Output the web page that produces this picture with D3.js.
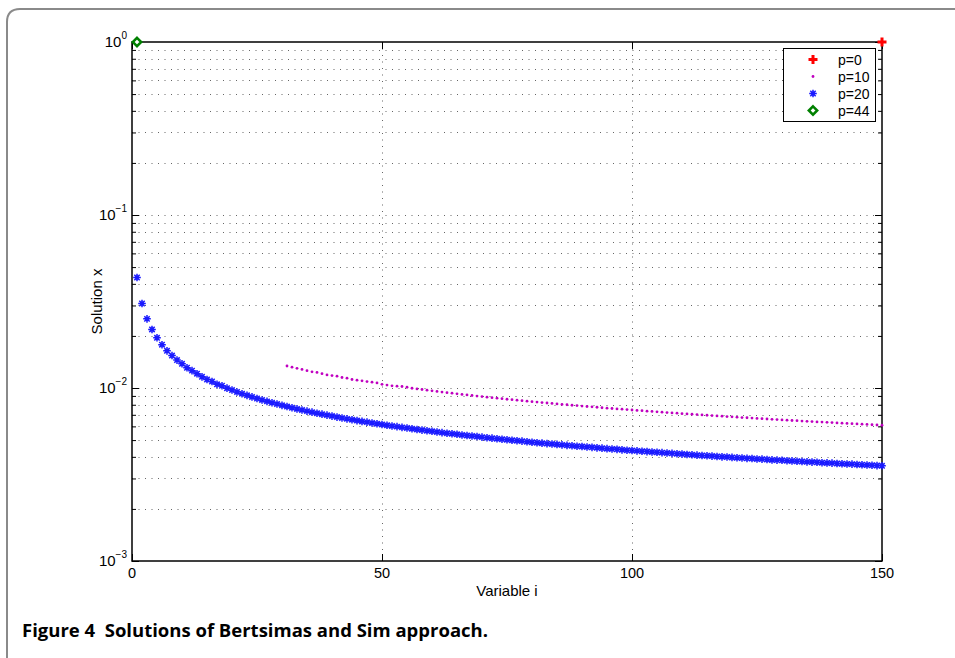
<!DOCTYPE html>
<html>
<head>
<meta charset="utf-8">
<script src="https://cdn.jsdelivr.net/npm/d3@7"></script>
<style>
  body { margin: 0; background: #fff; overflow: hidden; }
  svg { display: block; }
</style>
</head>
<body>
<div class="chart"></div>
<script>
const width = 955;
const height = 658;
const margin = { top: 42, right: 73, bottom: 97, left: 132 };
const innerWidth = width - margin.left - margin.right;
const innerHeight = height - margin.top - margin.bottom;

// series
const p0Index = [150];
const p0Values = [1];
const p44Index = [1];
const p44Values = [1];

// p=20, i = 1..150
const p20Start = 1;
const p20Values = [
  0.0435, 0.0308, 0.0251, 0.0218, 0.0195, 0.0178, 0.0164, 0.0154, 0.0145, 0.0138,
  0.0131, 0.0126, 0.0121, 0.0116, 0.0112, 0.0109, 0.0105, 0.0103, 0.00998, 0.00973,
  0.00949, 0.00927, 0.00907, 0.00888, 0.0087, 0.00853, 0.00837, 0.00822, 0.00808, 0.00794,
  0.00781, 0.00769, 0.00757, 0.00746, 0.00735, 0.00725, 0.00715, 0.00706, 0.00697, 0.00688,
  0.00679, 0.00671, 0.00663, 0.00656, 0.00648, 0.00641, 0.00635, 0.00628, 0.00621, 0.00615,
  0.00609, 0.00603, 0.00598, 0.00592, 0.00587, 0.00581, 0.00576, 0.00571, 0.00566, 0.00562,
  0.00557, 0.00552, 0.00548, 0.00544, 0.0054, 0.00535, 0.00531, 0.00528, 0.00524, 0.0052,
  0.00516, 0.00513, 0.00509, 0.00506, 0.00502, 0.00499, 0.00496, 0.00493, 0.00489, 0.00486,
  0.00483, 0.0048, 0.00477, 0.00475, 0.00472, 0.00469, 0.00466, 0.00464, 0.00461, 0.00459,
  0.00456, 0.00454, 0.00451, 0.00449, 0.00446, 0.00444, 0.00442, 0.00439, 0.00437, 0.00435,
  0.00433, 0.00431, 0.00429, 0.00427, 0.00425, 0.00423, 0.00421, 0.00419, 0.00417, 0.00415,
  0.00413, 0.00411, 0.00409, 0.00407, 0.00406, 0.00404, 0.00402, 0.0040, 0.00399, 0.00397,
  0.00395, 0.00394, 0.00392, 0.00391, 0.00389, 0.00388, 0.00386, 0.00384, 0.00383, 0.00382,
  0.0038, 0.00379, 0.00377, 0.00376, 0.00374, 0.00373, 0.00372, 0.0037, 0.00369, 0.00368,
  0.00366, 0.00365, 0.00364, 0.00363, 0.00361, 0.0036, 0.00359, 0.00358, 0.00356, 0.00355
];

// p=10, i = 31..150
const p10Start = 31;
const p10Values = [
  0.0134, 0.0132, 0.013, 0.0128, 0.0126, 0.0124, 0.0123, 0.0121, 0.0119, 0.0118,
  0.0117, 0.0115, 0.0114, 0.0112, 0.0111, 0.011, 0.0109, 0.0108, 0.0107, 0.0105,
  0.0104, 0.0103, 0.01025, 0.0102, 0.0101, 0.00997, 0.00988, 0.0098, 0.00971, 0.00963,
  0.00955, 0.00947, 0.0094, 0.00933, 0.00925, 0.00918, 0.00912, 0.00905, 0.00898, 0.00892,
  0.00885, 0.00879, 0.00873, 0.00867, 0.00861, 0.00856, 0.0085, 0.00845, 0.00839, 0.00834,
  0.00829, 0.00824, 0.00819, 0.00814, 0.00809, 0.00804, 0.008, 0.00795, 0.00791, 0.00786,
  0.00782, 0.00778, 0.00774, 0.00769, 0.00765, 0.00761, 0.00757, 0.00754, 0.0075, 0.00746,
  0.00742, 0.00739, 0.00735, 0.00732, 0.00728, 0.00725, 0.00721, 0.00718, 0.00715, 0.00711,
  0.00708, 0.00705, 0.00702, 0.00699, 0.00696, 0.00693, 0.0069, 0.00687, 0.00684, 0.00681,
  0.00678, 0.00675, 0.00673, 0.0067, 0.00667, 0.00665, 0.00662, 0.00659, 0.00657, 0.00654,
  0.00652, 0.00649, 0.00647, 0.00644, 0.00642, 0.0064, 0.00637, 0.00635, 0.00633, 0.00631,
  0.00628, 0.00626, 0.00624, 0.00622, 0.0062, 0.00618, 0.00616, 0.00613, 0.00611, 0.00609
];

const xTicks = [0, 50, 100, 150];
const yTicks = [1e-3, 1e-2, 1e-1, 1];
const yExponents = ["\u22123", "\u22122", "\u22121", "0"];
const legendLabels = ["p=0", "p=10", "p=20", "p=44"];
const caption = "Figure 4  Solutions of Bertsimas and Sim approach.";

const labelFont = "'Liberation Sans', Arial, Helvetica, sans-serif";

const xScale = d3.scaleLinear()
    .domain([0, 150])
    .range([margin.left, margin.left + innerWidth]);

const yScale = d3.scaleLog()
    .domain([1e-3, 1])
    .range([margin.top + innerHeight, margin.top]);

// minor decades: 2..9 x 10^k
const yMinor = [];
[1e-3, 1e-2, 1e-1].forEach(d => { for (let m = 2; m <= 9; m++) yMinor.push(d * m); });

const svg = d3.select("div.chart")
    .append("svg")
    .attr("width", width)
    .attr("height", height)
    .style("font-family", labelFont);

// card border (rounded top-left corner)
svg.append("path")
    .attr("d", "M7,660 V22 Q7,9 20,9 H960")
    .attr("fill", "none")
    .attr("stroke", "#8a8a8a")
    .attr("stroke-width", 2);

// grid
const grid = svg.append("g")
    .attr("stroke", "#666")
    .attr("stroke-width", 1)
    .attr("stroke-dasharray", "1,5.5");

grid.selectAll("line.hy")
    .data(yMinor.concat([1e-2, 1e-1]))
    .join("line")
    .attr("class", "hy")
    .attr("x1", margin.left)
    .attr("x2", margin.left + innerWidth)
    .attr("y1", d => Math.round(yScale(d)) + 0.5)
    .attr("y2", d => Math.round(yScale(d)) + 0.5);

grid.selectAll("line.vx")
    .data([50, 100])
    .join("line")
    .attr("class", "vx")
    .attr("x1", d => Math.round(xScale(d)) + 0.5)
    .attr("x2", d => Math.round(xScale(d)) + 0.5)
    .attr("y1", margin.top)
    .attr("y2", margin.top + innerHeight);

// axes: ticks pointing inward on all four sides
function styleAxis(g) {
    g.select(".domain").remove();
    g.selectAll(".tick line").attr("stroke", "#000").attr("stroke-width", 1);
    g.selectAll(".tick text").remove();
}

svg.append("g")
    .attr("transform", `translate(${margin.left},0)`)
    .call(d3.axisLeft(yScale).tickValues(yMinor).tickSize(-4).tickFormat(""))
    .call(styleAxis);
svg.append("g")
    .attr("transform", `translate(${margin.left},0)`)
    .call(d3.axisLeft(yScale).tickValues(yTicks).tickSize(-7).tickFormat(""))
    .call(styleAxis);
svg.append("g")
    .attr("transform", `translate(${margin.left + innerWidth},0)`)
    .call(d3.axisRight(yScale).tickValues(yMinor).tickSize(-4).tickFormat(""))
    .call(styleAxis);
svg.append("g")
    .attr("transform", `translate(${margin.left + innerWidth},0)`)
    .call(d3.axisRight(yScale).tickValues(yTicks).tickSize(-7).tickFormat(""))
    .call(styleAxis);
svg.append("g")
    .attr("transform", `translate(0,${margin.top + innerHeight})`)
    .call(d3.axisBottom(xScale).tickValues(xTicks).tickSize(-7).tickFormat(""))
    .call(styleAxis);
svg.append("g")
    .attr("transform", `translate(0,${margin.top})`)
    .call(d3.axisTop(xScale).tickValues(xTicks).tickSize(-7).tickFormat(""))
    .call(styleAxis);

// axes box
svg.append("rect")
    .attr("x", margin.left)
    .attr("y", margin.top)
    .attr("width", innerWidth)
    .attr("height", innerHeight)
    .attr("fill", "none")
    .attr("stroke", "#000")
    .attr("stroke-width", 1.5);

// tick labels
svg.append("g")
    .selectAll("text")
    .data(xTicks)
    .join("text")
    .attr("x", d => xScale(d))
    .attr("y", margin.top + innerHeight + 17)
    .attr("text-anchor", "middle")
    .attr("font-size", 14.5)
    .text(d => d);

const yLab = svg.append("g")
    .selectAll("text")
    .data(yTicks)
    .join("text")
    .attr("x", 127)
    .attr("y", d => yScale(d) + 5)
    .attr("text-anchor", "end")
    .attr("font-size", 15);
yLab.append("tspan").text("10");
yLab.append("tspan")
    .attr("font-size", 10)
    .attr("dy", -8)
    .text((d, i) => yExponents[i]);

// axis titles
svg.append("text")
    .attr("x", xScale(75))
    .attr("y", 596)
    .attr("text-anchor", "middle")
    .attr("font-size", 15)
    .text("Variable i");

svg.append("text")
    .attr("transform", `translate(102,${yScale(Math.sqrt(1e-3))}) rotate(-90)`)
    .attr("text-anchor", "middle")
    .attr("font-size", 15)
    .text("Solution x");

// marker shapes
const starPath = "M-3.8,0H3.8M0,-3.8V3.8M-2.7,-2.7L2.7,2.7M-2.7,2.7L2.7,-2.7";
const plusPath = "M-4.5,0H4.5M0,-4.5V4.5";
const diamondPath = "M0,-4.2L4.2,0L0,4.2L-4.2,0Z";

const p20 = p20Values.map((v, k) => ({ i: p20Start + k, v }));
const p10 = p10Values.map((v, k) => ({ i: p10Start + k, v }));
const p0 = p0Values.map((v, k) => ({ i: p0Index[k], v }));
const p44 = p44Values.map((v, k) => ({ i: p44Index[k], v }));

const marks = svg.append("g");

marks.append("g")
    .selectAll("path")
    .data(p20)
    .join("path")
    .attr("d", starPath)
    .attr("transform", d => `translate(${xScale(d.i)},${yScale(d.v)})`)
    .attr("fill", "none")
    .attr("stroke", "#1a1aff")
    .attr("stroke-width", 1.5);

marks.append("g")
    .selectAll("circle")
    .data(p10)
    .join("circle")
    .attr("cx", d => xScale(d.i))
    .attr("cy", d => yScale(d.v))
    .attr("r", 1.4)
    .attr("fill", "#c000c0");

marks.append("g")
    .selectAll("path")
    .data(p0)
    .join("path")
    .attr("d", plusPath)
    .attr("transform", d => `translate(${xScale(d.i)},${yScale(d.v)})`)
    .attr("stroke", "#ff0000")
    .attr("stroke-width", 3);

marks.append("g")
    .selectAll("path")
    .data(p44)
    .join("path")
    .attr("d", diamondPath)
    .attr("transform", d => `translate(${xScale(d.i)},${yScale(d.v)})`)
    .attr("fill", "#fff")
    .attr("stroke", "#008000")
    .attr("stroke-width", 2.5);

// legend
const legend = svg.append("g").attr("transform", "translate(783,48)");
legend.append("rect")
    .attr("x", 0.5)
    .attr("y", 0.5)
    .attr("width", 92)
    .attr("height", 73)
    .attr("fill", "#fff")
    .attr("stroke", "#000")
    .attr("stroke-width", 1);

const rowY = d3.scalePoint().domain(legendLabels).range([11.5, 62.5]);
const rows = legend.selectAll("g.row")
    .data(legendLabels)
    .join("g")
    .attr("class", "row")
    .attr("transform", d => `translate(30,${rowY(d)})`);

rows.filter((d, i) => i === 0).append("path")
    .attr("d", plusPath).attr("stroke", "#ff0000").attr("stroke-width", 3);
rows.filter((d, i) => i === 1).append("circle")
    .attr("r", 1.4).attr("fill", "#c000c0");
rows.filter((d, i) => i === 2).append("path")
    .attr("d", starPath).attr("fill", "none").attr("stroke", "#1a1aff").attr("stroke-width", 1.5);
rows.filter((d, i) => i === 3).append("path")
    .attr("d", diamondPath).attr("fill", "#fff").attr("stroke", "#008000").attr("stroke-width", 2.5);

rows.append("text")
    .attr("x", 25)
    .attr("y", 5)
    .attr("font-size", 14)
    .text(d => d);

// caption
svg.append("text")
    .attr("x", 22)
    .attr("y", 637)
    .style("font-family", "'Open Sans', sans-serif")
    .attr("font-weight", 700)
    .attr("font-size", 18)
    .attr("textLength", 466)
    .attr("lengthAdjust", "spacingAndGlyphs")
    .style("white-space", "pre")
    .text(caption);
</script>
</body>
</html>
